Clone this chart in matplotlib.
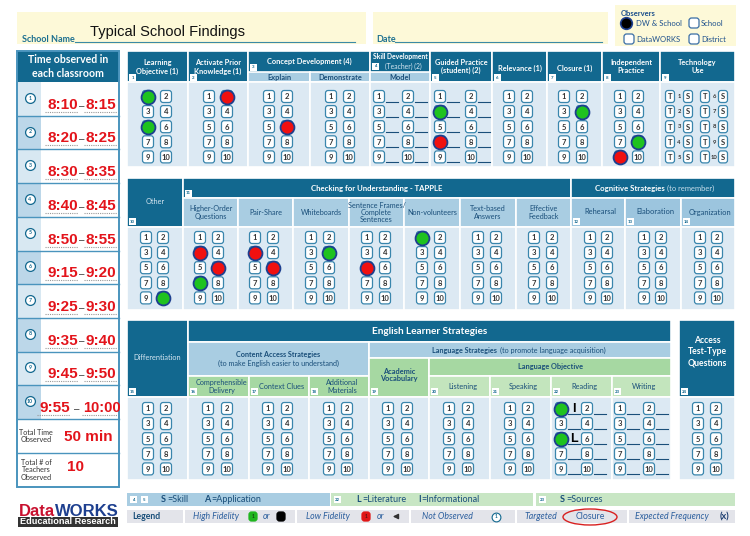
import matplotlib
matplotlib.use("Agg")
import matplotlib.pyplot as plt
from matplotlib.patches import FancyBboxPatch, Rectangle, Ellipse
import numpy as np

# ---------------- data ----------------
school_name = "Typical School Findings"
time_start = ["8:10", "8:20", "8:30", "8:40", "8:50", "9:15", "9:25", "9:35", "9:45", "9:55"]
time_end = ["8:15", "8:25", "8:35", "8:45", "8:55", "9:20", "9:30", "9:40", "9:50", "10:00"]
total_time = "50 min"
total_teachers = "10"
observer_options = ["DW & School", "School", "DataWORKS", "District"]
observer_selected = "DW & School"

top_columns = ["Learning Objective", "Activate Prior Knowledge", "Explain", "Demonstrate", "Model",
               "Guided Practice", "Relevance", "Closure", "Independent Practice"]
mid_columns = ["Other", "Higher-Order Questions", "Pair-Share", "Whiteboards", "Sentence Frames",
               "Non-volunteers", "Text-based Answers", "Effective Feedback", "Rehearsal",
               "Elaboration", "Organization"]
bot_columns = ["Differentiation", "Comprehensible Delivery", "Context Clues", "Additional Materials",
               "Academic Vocabulary", "Listening", "Speaking", "Reading", "Writing",
               "Access Test-Type Questions"]

# teacher numbers observed with high (green) / low (red) fidelity
high_fidelity = {"Learning Objective": [1, 5], "Guided Practice": [3], "Closure": [4],
                 "Independent Practice": [8], "Other": [10], "Higher-Order Questions": [7],
                 "Whiteboards": [4], "Non-volunteers": [1], "Reading": [1, 5]}
low_fidelity = {"Activate Prior Knowledge": [2], "Explain": [6], "Guided Practice": [7],
                "Independent Practice": [9], "Higher-Order Questions": [3, 6],
                "Pair-Share": [3, 6], "Sentence Frames": [5]}
reading_text_type = {1: "I", 5: "L"}

# ---------------- style ----------------
DARK = "#12688f"
BODY = "#dce9f3"
SUB = "#a9cde2"
SUB2 = "#9cc5de"
GREEN = "#a6d8a2"
GREEN2 = "#c3e5bd"
TXT = "#1a4f7a"
BOX_EC = "#3a86ad"
YEL = "#fdf9d8"
RED_T = "#e3141b"
FONT = "Lato"

fig = plt.figure(figsize=(7.5, 5.36), dpi=100)
ax = fig.add_axes([0, 0, 1, 1])
ax.set_xlim(0, 750)
ax.set_ylim(536, 0)
ax.axis("off")


def rect(x0, y0, x1, y1, fc, ec="white", lw=1.2, z=1):
    ax.add_patch(Rectangle((x0, y0), x1 - x0, y1 - y0, fc=fc, ec=ec, lw=lw, zorder=z))


def rbox(x, y, label, w=11, h=12, fs=5.5, fc="white", ec=BOX_EC, tc="#333333", z=3):
    ax.add_patch(FancyBboxPatch((x - w / 2, y - h / 2), w, h,
                                boxstyle="round,pad=0,rounding_size=2.6",
                                fc=fc, ec=ec, lw=0.9, zorder=z))
    if label != "":
        ax.text(x, y + 0.3, label, ha="center", va="center", fontsize=fs, color=tc,
                family=FONT, weight="bold", zorder=z + 1)


def secnum(x, y, label):
    ax.add_patch(Rectangle((x, y), 7, 7, fc="white", ec="none", zorder=4))
    ax.text(x + 3.5, y + 3.8, label, ha="center", va="center", fontsize=3.2,
            color=DARK, family=FONT, weight="bold", zorder=5)


def t(x, y, s, fs=5.5, c=TXT, w="bold", ha="center", va="center", fam=FONT, st="normal", z=6, ls=1.15):
    ax.text(x, y, s, fontsize=fs, color=c, weight=w, ha=ha, va=va, family=fam,
            style=st, zorder=z, linespacing=ls)


# ---------------- top bar ----------------
rect(17, 12, 366, 44, YEL, ec="none")
t(22, 39, "School Name", fs=6.5, c="#1d7090", ha="left")
ax.plot([75, 355], [42, 42], color="#3b8aa6", lw=0.8, zorder=3)
t(90, 32, school_name, fs=10.5, c="#111111", w="normal", ha="left", fam="Liberation Sans")
rect(373, 12, 608, 44, YEL, ec="none")
t(376, 39, "Date", fs=6.5, c="#1d7090", ha="left")
ax.plot([395, 602], [42, 42], color="#3b8aa6", lw=0.8, zorder=3)

rect(615, 5, 736, 46, YEL, ec="none")
t(621, 13, "Observers", fs=5.5, c="#1c4f8c", ha="left")
obs_pos = [(626, 23), (694, 23), (629, 39), (694, 39)]
for name, (ox, oy) in zip(observer_options, obs_pos):
    if name == observer_selected:
        ax.scatter([ox], [oy], s=70, c="black", edgecolors="#1d3f8f", linewidths=1.2, zorder=5)
        t(636, oy, name, fs=5.5, c="#1c4f8c", ha="left", w="normal")
    else:
        rbox(ox, oy, "", w=10, h=10, ec="#3a6ea5")
        t(ox + 7, oy, name, fs=5.5, c="#1c4f8c", ha="left", w="normal")

# ---------------- time panel ----------------
PANEL_EC = "#4a94bd"
rect(17, 51, 119, 82, DARK, ec="none")
t(68, 66.5, "Time observed in\neach classroom", fs=7.6, c="white", ls=1.25)
row_edges = np.linspace(82, 419, 11)
for i in range(10):
    y0, y1 = row_edges[i], row_edges[i + 1]
    rect(17, y0, 41, y1, "#d8e8f2" if i % 2 == 0 else "#bcd7e9", ec="none")
    ax.plot([17, 119], [y1, y1], color=PANEL_EC, lw=1.0, zorder=3)
    cy = (y0 + y1) / 2 - 1
    ax.scatter([30], [cy], s=50, c="white", edgecolors=DARK, linewidths=0.9, zorder=4)
    t(30, cy + 0.2, str(i + 1), fs=3.8, c=DARK)
    ty = y1 - 11
    long_end = len(time_end[i]) > 4
    sx_r = 70 if long_end else 78
    ex_l = 83 if long_end else 85
    t(sx_r, ty, time_start[i], fs=11, c=RED_T, fam="Liberation Sans", ha="right")
    t((sx_r + ex_l) / 2, ty + 1, "–", fs=7, c="#333333", fam="Liberation Sans", w="normal")
    t(ex_l, ty, time_end[i], fs=11 if not long_end else 10.5, c=RED_T, fam="Liberation Sans", ha="left")
    ax.plot([sx_r - 33, sx_r], [y1 - 4, y1 - 4], color="#999999", lw=0.8, ls=(0, (1, 1)), zorder=3)
    ax.plot([ex_l - 1, 117], [y1 - 4, y1 - 4], color="#999999", lw=0.8, ls=(0, (1, 1)), zorder=3)
ax.plot([17, 119], [453, 453], color=PANEL_EC, lw=1.0, zorder=3)
t(36, 436, "Total Time\nObserved", fs=5.2, c="#333333", w="normal")
t(88, 437, total_time, fs=11, c=RED_T, fam="Liberation Sans")
t(36, 470, "Total # of\nTeachers\nObserved", fs=5.2, c="#333333", w="normal")
t(75, 467, total_teachers, fs=11, c=RED_T, fam="Liberation Sans")
ax.add_patch(Rectangle((17, 51), 102, 436, fc="none", ec=PANEL_EC, lw=1.4, zorder=4))

# logo
t(19, 511, "Data", fs=12, c="#c8102e", ha="left", fam="Liberation Sans")
t(55, 511, "WORKS", fs=12, c="#1d3f8f", ha="left", fam="Liberation Sans")
rect(18, 517, 118, 527, "#333333", ec="none")
t(68, 522, "Educational Research", fs=6.6, c="white", fam="Liberation Sans")

# ---------------- geometry of columns ----------------
# column name -> (x0, x1, left box x, right box x, style)
geom = {
    "Learning Objective": (127, 188, 148, 166, "pair"),
    "Activate Prior Knowledge": (188, 248, 209, 227, "pair"),
    "Explain": (248, 310, 269, 287, "pair"),
    "Demonstrate": (310, 370, 331, 349, "pair"),
    "Model": (370, 430, 379, 408, "blank"),
    "Guided Practice": (430, 492, 440, 471, "blank"),
    "Relevance": (492, 547, 509, 527, "pair"),
    "Closure": (547, 602, 564, 582, "pair"),
    "Independent Practice": (602, 660, 620, 638, "pair"),
    "Other": (127, 183, 146, 163, "pair"),
    "Higher-Order Questions": (183, 238, 200, 218, "pair"),
    "Pair-Share": (238, 293, 255, 273, "pair"),
    "Whiteboards": (293, 349, 311, 329, "pair"),
    "Sentence Frames": (349, 404, 367, 385, "pair"),
    "Non-volunteers": (404, 460, 422, 440, "pair"),
    "Text-based Answers": (460, 516, 478, 496, "pair"),
    "Effective Feedback": (516, 571, 534, 552, "pair"),
    "Rehearsal": (571, 625, 590, 607, "pair"),
    "Elaboration": (625, 681, 644, 661, "pair"),
    "Organization": (681, 735, 700, 717, "pair"),
    "Differentiation": (127, 188, 148, 166, "pair"),
    "Comprehensible Delivery": (188, 249, 208, 227, "pair"),
    "Context Clues": (249, 309, 268, 287, "pair"),
    "Additional Materials": (309, 369, 329, 347, "pair"),
    "Academic Vocabulary": (369, 429, 388, 407, "pair"),
    "Listening": (429, 490, 449, 468, "pair"),
    "Speaking": (490, 551, 510, 528, "pair"),
    "Reading": (551, 612, 561, 587, "blank"),
    "Writing": (612, 671, 620, 649, "blank"),
    "Access Test-Type Questions": (679, 735, 698, 716, "pair"),
}
sections = [(top_columns, 82, 167, 96.5), (mid_columns, 227, 310, 237.5), (bot_columns, 397, 480, 408.5)]
ROW_DY = 15.1


def box_xy(col, n, y_first):
    x0, x1, bl, br, style = geom[col]
    r, c = (n - 1) // 2, (n - 1) % 2
    return (bl if c == 0 else br), y_first + r * ROW_DY


# ---------------- section headers ----------------
# top
top_hdr = [(127, 188), (188, 248), (248, 370), (370, 430), (430, 492), (492, 547), (547, 602), (602, 660), (660, 735)]
for (x0, x1) in top_hdr:
    rect(x0, 51, x1, 82, DARK)
for (x0, x1), lab in zip([(248, 310), (310, 370), (370, 430)], ["Explain", "Demonstrate", "Model"]):
    rect(x0, 72, x1, 82, SUB)
    t((x0 + x1) / 2, 77.3, lab, fs=5.3, c=TXT)
for s, x, y in [("Learning\nObjective (1)", 157.5, 67), ("Activate Prior\nKnowledge (1)", 218, 67),
                ("Concept Development (4)", 309, 61.5), ("Relevance (1)", 519.5, 68),
                ("Guided Practice\n(student) (2)", 461, 66.5),
                ("Closure (1)", 574.5, 68), ("Independent\nPractice", 631, 66.5),
                ("Technology\nUse", 697.5, 66.5)]:
    t(x, y, s, fs=5.3, c="white")
t(400, 57, "Skill Development", fs=4.9, c="white")
t(403, 66, "(Teacher) (2)", fs=4.9, c="#d5e6f1", w="normal")
for lab, x, y in [("1", 129, 74), ("2", 190, 74), ("3", 250, 63.5), ("4", 372, 62.5),
                  ("5", 432, 74), ("6", 494, 74), ("7", 549, 74), ("8", 604, 74), ("9", 662, 74)]:
    secnum(x, y, lab)

# middle
rect(127, 178, 183, 227, DARK)
t(155, 202, "Other", fs=5.3, c="#d5e6f1", w="normal")
secnum(129, 218, "10")
rect(183, 178, 571, 198, DARK)
t(377, 188, "Checking for Understanding - TAPPLE", fs=5.6, c="white")
secnum(185, 189.5, "11")
mid_edges = [183, 238, 293, 349, 404, 460, 516, 571]
mid_labels = ["Higher-Order\nQuestions", "Pair-Share", "Whiteboards", "Sentence Frames/\nComplete\nSentences",
              "Non-volunteers", "Text-based\nAnswers", "Effective\nFeedback"]
for i, lab in enumerate(mid_labels):
    rect(mid_edges[i], 198, mid_edges[i + 1], 227, SUB)
    t((mid_edges[i] + mid_edges[i + 1]) / 2, 212.5, lab, fs=5.2, c=TXT, w="normal", ls=1.05)
rect(571, 178, 735, 198, DARK)
t(595, 188, "Cognitive Strategies", fs=5.6, c="white", ha="left")
t(667, 188, "(to remember)", fs=5.4, c="#c9dfec", ha="left", w="normal")
cog_edges = [571, 625, 681, 735]
for i, (lab, num) in enumerate(zip(["Rehearsal", "Elaboration", "Organization"], ["12", "13", "14"])):
    rect(cog_edges[i], 198, cog_edges[i + 1], 227, SUB2)
    t((cog_edges[i] + cog_edges[i + 1]) / 2 + 2, 212, lab, fs=5.4, c=TXT, w="normal")
    secnum(cog_edges[i] + 2, 218, num)

# bottom
rect(127, 320, 188, 397, DARK)
t(157.5, 358, "Differentiation", fs=5.3, c="#d5e6f1", w="normal")
secnum(129, 388, "15")
rect(188, 320, 671, 342, DARK)
t(430, 331, "English Learner Strategies", fs=7.2, c="white")
rect(188, 342, 369, 376, SUB)
t(278.5, 354, "Content Access Strategies", fs=5.2, c=TXT)
t(278.5, 363.5, "(to make English easier to understand)", fs=5.2, c=TXT, w="normal")
for (x0, x1), lab, num in zip([(188, 249), (249, 309), (309, 369)],
                              ["Comprehensible\nDelivery", "Context Clues", "Additional\nMaterials"],
                              ["16", "17", "18"]):
    rect(x0, 376, x1, 397, GREEN)
    t((x0 + x1) / 2 + 3, 386.5, lab, fs=5.2, c=TXT, w="normal", ls=1.05)
    secnum(x0 + 2, 388, num)
rect(369, 342, 671, 358, SUB)
t(432, 350, "Language Strategies", fs=5.2, c=TXT, ha="left")
t(500, 350, "(to promote language acquisition)", fs=5.2, c=TXT, w="normal", ha="left")
rect(369, 358, 429, 397, GREEN)
t(399, 375, "Academic\nVocabulary", fs=5.3, c=TXT)
secnum(371, 388, "19")
rect(429, 358, 671, 376, GREEN)
t(550, 367, "Language Objective", fs=5.3, c=TXT)
for (x0, x1), lab, num in zip([(429, 490), (490, 551), (551, 612), (612, 671)],
                              ["Listening", "Speaking", "Reading", "Writing"], ["20", "21", "22", "23"]):
    rect(x0, 376, x1, 397, GREEN2)
    t((x0 + x1) / 2 + 3, 386, lab, fs=5.3, c=TXT, w="normal")
    secnum(x0 + 2, 388, num)
rect(679, 320, 735, 397, DARK)
t(707, 352, "Access\nTest-Type\nQuestions", fs=6.2, c="white", ls=1.35)
secnum(681, 388, "24")

# ---------------- bodies, number boxes and marks ----------------
for cols, yb0, yb1, yfirst in sections:
    for col in cols:
        x0, x1, bl, br, style = geom[col]
        rect(x0, yb0, x1, yb1, BODY)
        for n in range(1, 11):
            bx, by = box_xy(col, n, yfirst)
            rbox(bx, by, str(n))
            if style == "blank":
                ax.plot([bx + 7, bx + 19], [by + 5, by + 5], color=TXT, lw=0.8, zorder=3)
        hx, hy = zip(*[box_xy(col, n, yfirst) for n in high_fidelity[col]]) if col in high_fidelity else ([], [])
        lx, ly = zip(*[box_xy(col, n, yfirst) for n in low_fidelity[col]]) if col in low_fidelity else ([], [])
        ax.scatter(hx, hy, s=100, c="#1fc21f", edgecolors="#1d3f8f", linewidths=1.3, zorder=6)
        ax.scatter(lx, ly, s=100, c="#f01010", edgecolors="#1d3f8f", linewidths=1.3, zorder=6)
        if col == "Reading":
            for n, letter in reading_text_type.items():
                bx, by = box_xy(col, n, yfirst)
                t(bx + 12.5, by, letter, fs=9, c="black", fam="Liberation Sans")

# technology use column
rect(660, 82, 735, 167, BODY)
for r in range(5):
    yy = 96.5 + r * ROW_DY
    for base, num in [(670, r + 1), (705, r + 6)]:
        rbox(base, yy, "T", w=9, h=12)
        t(base + 9, yy + 0.3, str(num), fs=4.2, c="#333333")
        rbox(base + 18, yy, "S", w=9, h=12)

# ---------------- legend rows ----------------
rect(127, 493, 330, 506, SUB, ec="none")
rect(331, 493, 533, 506, "#c8e6c4", ec="none")
rect(536, 493, 735, 506, "#c8e6c4", ec="none")
secnum(130, 496, "4")
secnum(141, 496, "5")
t(161, 499.5, "S", fs=6.5, c=TXT, ha="left")
t(167.5, 499.5, "=Skill", fs=6.5, c=TXT, ha="left", w="normal")
t(204, 499.5, "A", fs=6.5, c=TXT, ha="left")
t(211, 499.5, "=Application", fs=6.5, c=TXT, ha="left", w="normal")
secnum(334, 496, "22")
t(356, 499.5, "L", fs=6.5, c=TXT, ha="left")
t(362, 499.5, "=Literature", fs=6.5, c=TXT, ha="left", w="normal")
t(418, 499.5, "I", fs=6.5, c=TXT, ha="left")
t(421, 499.5, "=Informational", fs=6.5, c=TXT, ha="left", w="normal")
secnum(539, 496, "23")
t(560, 499.5, "S", fs=6.5, c=TXT, ha="left")
t(566.5, 499.5, "=Sources", fs=6.5, c=TXT, ha="left", w="normal")

for x0, x1 in [(127, 183), (185, 295), (297, 409), (411, 515), (517, 627), (629, 735)]:
    rect(x0, 510, x1, 523, "#e3e4ea", ec="none")
LEG = "#2c5f9e"
t(132, 516.5, "Legend", fs=6.3, c=TXT, ha="left")
t(193, 516.5, "High Fidelity", fs=6.3, c=LEG, ha="left", w="normal", st="italic")
rbox(253, 516.5, "1", w=8, h=9, fs=3.5, fc="#1fb51f", ec="#1fb51f", tc="#114411")
t(263, 516.5, "or", fs=6.3, c=LEG, ha="left", w="normal", st="italic")
rbox(281, 516.5, "", w=8, h=9, fc="black", ec="black")
t(306, 516.5, "Low Fidelity", fs=6.3, c=LEG, ha="left", w="normal", st="italic")
rbox(366, 516.5, "1", w=8, h=9, fs=3.5, fc="#e01515", ec="#e01515", tc="#551111")
t(377, 516.5, "or", fs=6.3, c=LEG, ha="left", w="normal", st="italic")
ax.annotate("", xy=(390, 516.5), xytext=(400, 516.5),
            arrowprops=dict(arrowstyle="-|>,head_width=0.15,head_length=0.3", color="#333333", lw=1.0), zorder=6)
t(422, 516.5, "Not Observed", fs=6.3, c=LEG, ha="left", w="normal", st="italic")
ax.scatter([496], [516.5], s=40, c="white", edgecolors=DARK, linewidths=0.8, zorder=5)
t(496, 516.7, "1", fs=3.5, c=DARK)
t(525, 516.5, "Targeted", fs=6.3, c=LEG, ha="left", w="normal", st="italic")
t(590, 516.5, "Closure", fs=6.3, c=LEG, w="normal")
ax.add_patch(Ellipse((590, 517), 54, 16, fc="none", ec="#d82020", lw=1.0, zorder=6))
t(635, 516.5, "Expected Frequency", fs=6.3, c=LEG, ha="left", w="normal", st="italic")
t(729, 516.5, "(x)", fs=6.5, c="#1c3d70", ha="right")

fig.savefig("out.png", dpi=100)
